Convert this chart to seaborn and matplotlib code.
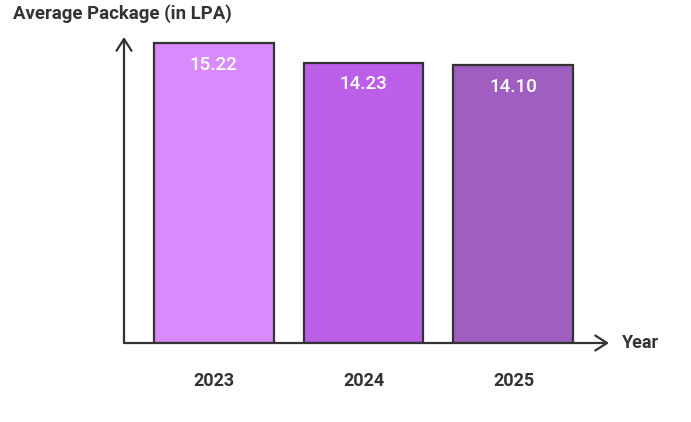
import matplotlib
matplotlib.use("Agg")
import matplotlib.pyplot as plt
import seaborn as sns
import pandas as pd

years = ["2023", "2024", "2025"]
packages = [15.22, 14.23, 14.10]
bar_colors = ["#D98AFC", "#BC5FE8", "#A05FC0"]
value_labels = ["15.22", "14.23", "14.10"]
y_title = "Average Package (in LPA)"
x_title = "Year"

sns.set_theme(style="white")
plt.rcParams["font.family"] = ["Roboto", "DejaVu Sans"]

df = pd.DataFrame({"year": years, "pkg": packages})

W, H = 691, 422
fig = plt.figure(figsize=(W / 100, H / 100), dpi=100)
x0, x1, y0, y1 = 124, 609, 343, 37
ax = fig.add_axes([x0 / W, (H - y0) / H, (x1 - x0) / W, (y0 - y1) / H])

sns.barplot(data=df, x="year", y="pkg", hue="year", palette=bar_colors,
            order=years, width=0.8, edgecolor="#333333", linewidth=1.6,
            legend=False, ax=ax, saturation=1)

ax.set_xlim(-0.597, 2.637)
ax.set_ylim(0, 15.525)

for i, (v, lab) in enumerate(zip(packages, value_labels)):
    ax.annotate(lab, xy=(i, v), xytext=(0, -15.5), textcoords="offset points",
                ha="center", va="center", color="white", fontsize=13.5,
                fontweight="medium")

for s in ax.spines.values():
    s.set_visible(False)
ax.set_yticks([])
ax.set_xticks(range(len(years)))
ax.set_xticklabels(years, fontsize=13, fontweight="bold", color="#333333")
ax.tick_params(axis="x", length=0, pad=21)
ax.set_xlabel("")
ax.set_ylabel("")

arrow_kw = dict(arrowstyle="->,head_length=0.7,head_width=0.45", color="#333333",
                lw=1.6, shrinkA=0, shrinkB=0)
ax.annotate("", xy=(0, 1), xytext=(0, 0), xycoords="axes fraction",
            textcoords="axes fraction", arrowprops=arrow_kw, annotation_clip=False)
ax.annotate("", xy=(1, 0), xytext=(0, 0), xycoords="axes fraction",
            textcoords="axes fraction", arrowprops=arrow_kw, annotation_clip=False)

fig.text(13 / W, 1 - 14 / H, y_title, ha="left", va="center",
         fontsize=13.4, fontweight="bold", color="#333333")
fig.text(622 / W, 1 - 343 / H, x_title, ha="left", va="center",
         fontsize=13, fontweight="bold", color="#333333")

fig.savefig("out.png", dpi=100, facecolor="white")
